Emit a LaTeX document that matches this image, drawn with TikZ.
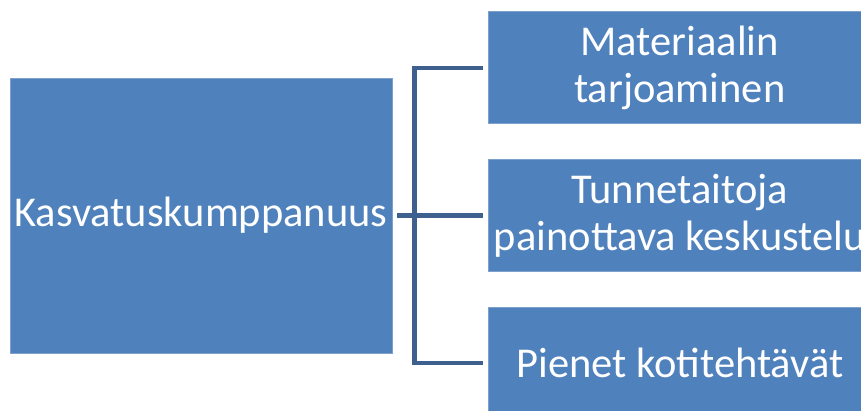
\documentclass[tikz,border=0pt]{standalone}
\usepackage{fontspec}
\setmainfont{Carlito}
\usetikzlibrary{positioning}
\definecolor{boxblue}{RGB}{79,129,189}
\definecolor{boxedge}{RGB}{125,160,205}
\definecolor{linkblue}{RGB}{61,96,143}

\begin{document}
\begin{tikzpicture}[x=1pt,y=-1pt,
    topic/.style={rectangle, fill=boxblue, draw=boxedge, line width=0.8pt,
      text=white, align=center, inner sep=0pt,
      font=\fontsize{42.5}{47}\selectfont},
    link/.style={draw=linkblue, line width=4.3pt}]
  \useasboundingbox (0,0) rectangle (861,410);

  \node[topic, minimum width=382pt, minimum height=275pt] (kasv) at (201,215.5)
    {Kasvatuskumppanuus};
  \node[topic, minimum width=382pt, minimum height=112pt, right=96pt of kasv] (tunne)
    {Tunnetaitoja\\painottava keskustelu};
  \node[topic, minimum width=382pt, minimum height=112pt, above=35pt of tunne] (mater)
    {Materiaalin\\tarjoaminen};
  \node[topic, minimum width=382pt, minimum height=112pt, below=35pt of tunne] (koti)
    {Pienet kotitehtävät};

  \coordinate[left=74pt of tunne.west] (haara);
  \draw[link] ([xshift=-5pt]mater.west) -| (haara) |- ([xshift=-5pt]koti.west);
  \draw[link] ([xshift=5pt]kasv.east) -- ([xshift=-5pt]tunne.west);
\end{tikzpicture}
\end{document}
